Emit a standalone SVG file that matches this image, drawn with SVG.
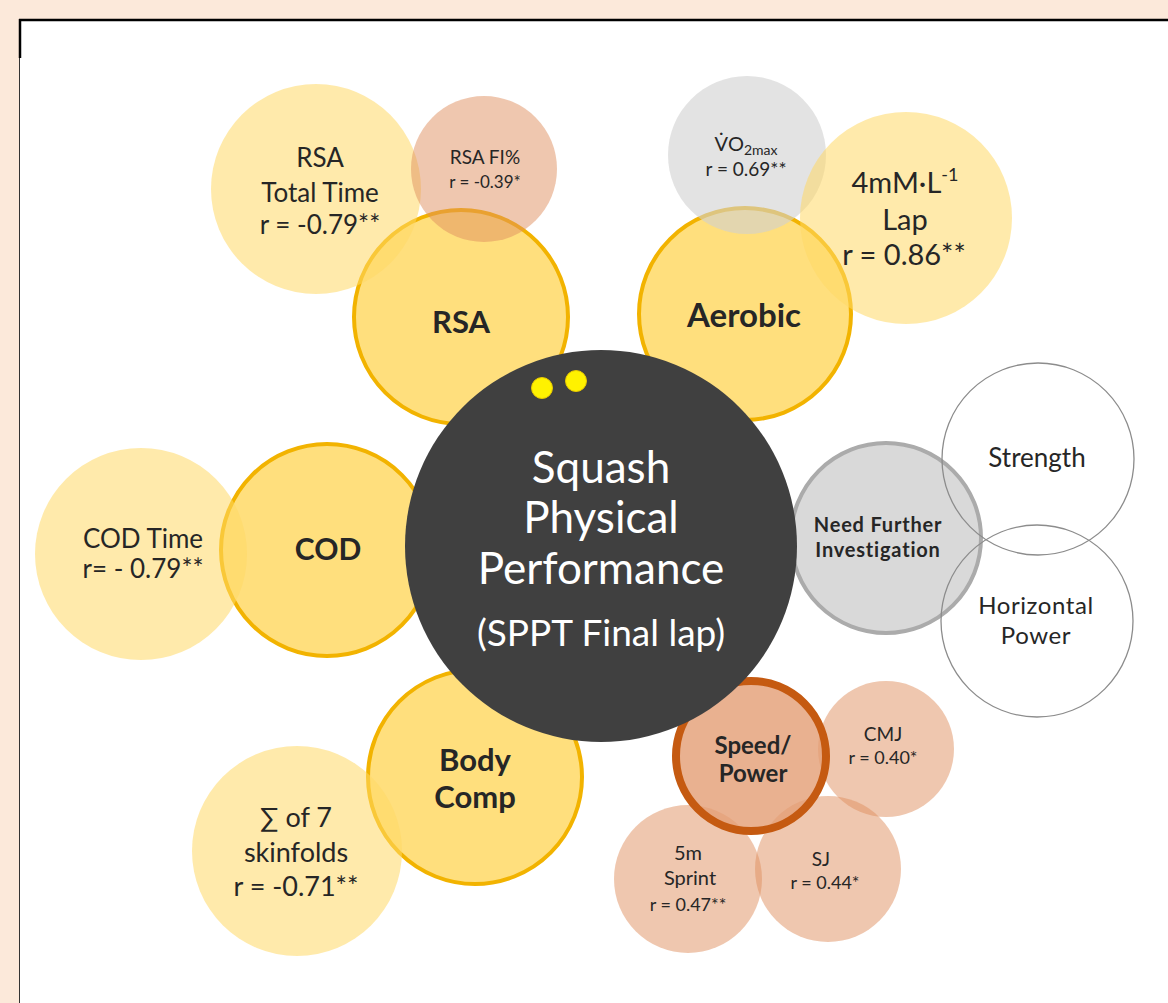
<svg xmlns="http://www.w3.org/2000/svg" width="1168" height="1003" viewBox="0 0 1168 1003">
<style>
text{font-family:Lato,"Open Sans","Liberation Sans",sans-serif;fill:#262626;text-anchor:middle}
.b{font-weight:bold}
.w{fill:#ffffff}
.main{fill:#FFD966;fill-opacity:0.85;stroke:#F2B300;stroke-width:4}
.sec{fill:#FFD966;fill-opacity:0.55}
.brn{fill:#E09060;fill-opacity:0.5}
.gry{fill:#D0D0D0;fill-opacity:0.6}
.out{fill:none;stroke:#8C8C8C;stroke-width:1.3}
</style>
<rect x="0" y="0" width="1168" height="1003" fill="#FCE9DA"/>
<rect x="20" y="20" width="1148" height="983" fill="#ffffff"/>
<line x1="19" y1="20" x2="1168" y2="20" stroke="#000" stroke-width="2.5"/>
<line x1="20" y1="19" x2="20" y2="58" stroke="#000" stroke-width="2.5"/>
<line x1="19.5" y1="58" x2="19.5" y2="1003" stroke="#333" stroke-width="1"/>
<g id="connectors"/>
<g id="rsa">
<circle class="main" cx="461" cy="317" r="107"/>
<text class="b" x="461" y="333" font-size="31">RSA</text>
</g>
<g id="aerobic">
<circle class="main" cx="745" cy="314" r="106"/>
<text class="b" x="744" y="327" font-size="33">Aerobic</text>
</g>
<g id="cod">
<circle class="main" cx="327" cy="550" r="106"/>
<text class="b" x="328" y="560" font-size="30">COD</text>
</g>
<g id="bodycomp">
<circle class="main" cx="475" cy="777" r="107"/>
<text class="b" x="475" y="771" font-size="31">Body</text>
<text class="b" x="475" y="808" font-size="31">Comp</text>
</g>
<g id="rsa-total-time">
<circle class="sec" cx="316" cy="189" r="105"/>
<text x="320" y="167" font-size="26">RSA</text>
<text x="320" y="202" font-size="26">Total Time</text>
<text x="320" y="234" font-size="26">r = -0.79**</text>
</g>
<g id="rsa-fi">
<circle class="brn" cx="484" cy="169" r="73"/>
<text x="485" y="164" font-size="19">RSA FI%</text>
<text x="485" y="188" font-size="17">r = -0.39*</text>
</g>
<g id="vo2max">
<circle class="gry" cx="747" cy="155" r="79"/>
<text x="746" y="151" font-size="20">V&#775;O<tspan font-size="14" dy="4">2max</tspan></text>
<text x="746" y="176" font-size="19">r = 0.69**</text>
</g>
<g id="lactate-lap">
<circle class="sec" cx="906" cy="218" r="106"/>
<text x="905" y="193" font-size="29">4mM·L<tspan font-size="18" dy="-12">-1</tspan></text>
<text x="905" y="230" font-size="29">Lap</text>
<text x="904" y="265" font-size="29">r = 0.86**</text>
</g>
<g id="cod-time">
<circle class="sec" cx="141" cy="554" r="106"/>
<text x="143" y="548" font-size="26">COD Time</text>
<text x="143" y="578" font-size="26">r= - 0.79**</text>
</g>
<g id="skinfolds">
<circle class="sec" cx="297" cy="851" r="105"/>
<text x="296" y="827" font-size="27">∑ of 7</text>
<text x="296" y="862" font-size="27">skinfolds</text>
<text x="296" y="896" font-size="27">r = -0.71**</text>
</g>
<g id="cmj">
<circle class="brn" cx="886" cy="749" r="68"/>
<text x="883" y="741" font-size="19">CMJ</text>
<text x="883" y="764" font-size="18">r = 0.40*</text>
</g>
<g id="sj">
<circle class="brn" cx="828" cy="869" r="73"/>
<text x="821" y="866" font-size="19">SJ</text>
<text x="825" y="889" font-size="18">r = 0.44*</text>
</g>
<g id="sprint">
<circle class="brn" cx="688" cy="879" r="74"/>
<text x="688" y="860" font-size="20">5m</text>
<text x="690" y="885" font-size="20">Sprint</text>
<text x="688" y="911" font-size="18">r = 0.47**</text>
</g>
<g id="speed-power">
<circle cx="751" cy="756" r="75" fill="#E39E74" fill-opacity="0.8" stroke="#C55A11" stroke-width="8"/>
<text class="b" x="753" y="754" font-size="24">Speed/</text>
<text class="b" x="753" y="782" font-size="24">Power</text>
</g>
<g id="further">
<circle cx="886" cy="538" r="95" fill="#D9D9D9" stroke="#ABABAB" stroke-width="4"/>
<text class="b" x="878" y="532" font-size="20" letter-spacing="0.8">Need Further</text>
<text class="b" x="878" y="557" font-size="20" letter-spacing="0.8">Investigation</text>
</g>
<g id="strength">
<circle class="out" cx="1038" cy="459" r="96"/>
<text x="1037" y="467" font-size="26">Strength</text>
</g>
<g id="horizontal-power">
<circle class="out" cx="1037" cy="621" r="96"/>
<text x="1036" y="614" font-size="24" letter-spacing="0.6">Horizontal</text>
<text x="1036" y="644" font-size="24" letter-spacing="0.6">Power</text>
</g>
<g id="center">
<circle cx="601" cy="546" r="196" fill="#404040"/>
<circle cx="542" cy="388" r="10.5" fill="#FFF200" stroke="#E8C800" stroke-width="1"/>
<circle cx="576" cy="381" r="10.5" fill="#FFF200" stroke="#E8C800" stroke-width="1"/>
<text class="w" x="601" y="483" font-size="44">Squash</text>
<text class="w" x="601" y="533" font-size="44">Physical</text>
<text class="w" x="601" y="584" font-size="44">Performance</text>
<text class="w" x="601" y="646" font-size="37">(SPPT Final lap)</text>
</g>
</svg>
